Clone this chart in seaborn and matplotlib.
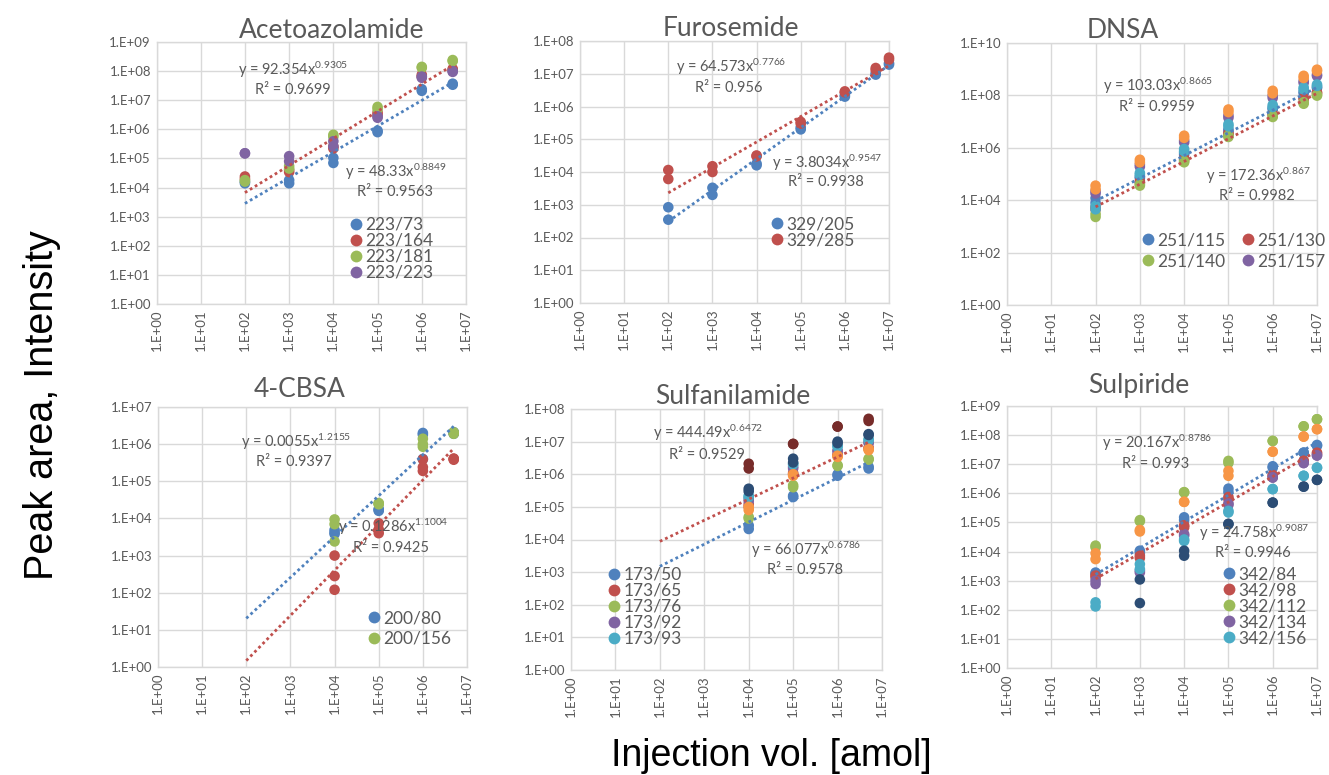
import numpy as np
import pandas as pd
import matplotlib
matplotlib.use("Agg")
import matplotlib.pyplot as plt
import seaborn as sns
from matplotlib.lines import Line2D
from matplotlib.ticker import NullLocator

sns.set_theme(style="white")
plt.rcParams["font.family"] = ["Lato", "DejaVu Sans"]
plt.rcParams.update({"mathtext.fontset": "custom", "mathtext.rm": "Lato",
                     "mathtext.it": "Lato:italic", "mathtext.bf": "Lato:bold"})

nan = np.nan
# ---------------- colours (Office palette) ----------------
C_BLUE, C_RED, C_GREEN, C_PURPLE = "#4F81BD", "#C0504D", "#9BBB59", "#8064A2"
C_TEAL, C_ORANGE, C_NAVY, C_DRED = "#4BACC6", "#F79646", "#2C4D75", "#772C2A"

# ---------------- data ----------------
# Acetoazolamide
aceto_x = [1e2, 1e2, 1e3, 1e3, 1e4, 1e4, 1e5, 1e5, 1e6, 1e6, 5e6, 5e6]
aceto_223_73 = [1.4e4, 1.6e4, 1.4e4, 1.8e4, 7e4, 1.05e5, 8e5, 9e5, 2.1e7, 2.4e7, 3.4e7, 3.7e7]
aceto_223_164 = [2.4e4, 2.0e4, 3.4e4, 4.0e4, 2.2e5, 2.6e5, 3.2e6, 3.8e6, 6.5e7, 7.5e7, 1.2e8, 1.1e8]
aceto_223_181 = [1.8e4, 1.6e4, 4.5e4, 5.5e4, 6.5e5, 5.5e5, 5.9e6, 5.0e6, 1.4e8, 1.3e8, 2.4e8, 2.2e8]
aceto_223_223 = [1.5e5, 1.5e5, 1.2e5, 8e4, 3.9e5, 2.6e5, 2.8e6, 2.5e6, 5.9e7, 6.5e7, 9.4e7, 1.0e8]

# Furosemide
furo_x = [1e2, 1e2, 1e3, 1e3, 1e4, 1e4, 1e5, 1e5, 1e6, 1e6, 5e6, 5e6, 1e7, 1e7]
furo_329_205 = [8.4e2, 3.5e2, 3.3e3, 2.0e3, 1.6e4, 1.8e4, 2.0e5, 2.3e5, 2.0e6, 2.2e6, 9.4e6, 1.05e7, 1.9e7, 2.1e7]
furo_329_285 = [1.15e4, 6.1e3, 1.5e4, 1.0e4, 3.2e4, 3.0e4, 3.4e5, 3.0e5, 2.9e6, 2.7e6, 1.5e7, 1.3e7, 3.1e7, 2.7e7]

# DNSA
dnsa_x = [1e2, 1e2, 1e3, 1e3, 1e4, 1e4, 1e5, 1e5, 1e6, 1e6, 5e6, 5e6, 1e7, 1e7]
dnsa_251_115 = [1.2e4, 8e3, 7e4, 8e4, 5.5e5, 6.5e5, 4.3e6, 5e6, 2.9e7, 3.3e7, 1.2e8, 1.4e8, 1.9e8, 2.1e8]
dnsa_251_130 = [4.4e3, 5.5e3, 4.6e4, 5.2e4, 3.5e5, 4e5, 3.2e6, 3.6e6, 1.8e7, 2e7, 7.2e7, 8e7, 1.2e8, 1.3e8]
dnsa_251_140 = [2.3e3, 3e3, 3.6e4, 4e4, 2.8e5, 3.1e5, 2.6e6, 2.9e6, 1.5e7, 1.65e7, 4.8e7, 5.5e7, 9.8e7, 1.05e8]
dnsa_251_157 = [1.8e4, 2.2e4, 2.3e5, 1.9e5, 1.9e6, 1.6e6, 1.7e7, 1.4e7, 9.8e7, 8e7, 3.5e8, 3e8, 6.2e8, 5.5e8]
dnsa_series5 = [6e3, 4.5e3, 9.4e4, 1.1e5, 7.4e5, 9e5, 6.6e6, 8e6, 3.6e7, 4.3e7, 1.7e8, 2e8, 2.3e8, 2.6e8]
dnsa_series6 = [3.6e4, 2.6e4, 3.5e5, 2.8e5, 2.9e6, 2.4e6, 2.9e7, 2.3e7, 1.5e8, 1.2e8, 5.6e8, 4.6e8, 9.6e8, 8.4e8]

# 4-CBSA
cbsa_x = [1e4, 1e4, 1e4, 1e5, 1e5, 1e5, 1e6, 1e6, 1e6, 5e6, 5e6, 5e6]
cbsa_200_80 = [4.9e3, 3.8e3, 4.2e3, 1.7e4, 1.6e4, 1.8e4, 2.0e6, 1.8e6, 4e5, 2.1e6, 2.0e6, 1.9e6]
cbsa_200_156 = [9.4e3, 7e3, 2.4e3, 2.6e4, 2.4e4, 2.5e4, 1.4e6, 1.0e6, 8.5e5, 2.1e6, 1.9e6, 2.0e6]
cbsa_series3 = [1e3, 2.8e2, 1.2e2, 7.4e3, 5.1e3, 4e3, 3.9e5, 2.4e5, 1.9e5, 4.1e5, 3.8e5, 4e5]

# Sulfanilamide
sulfa_x = [1e4, 1e4, 1e5, 1e5, 1e6, 1e6, 5e6, 5e6]
sulfa_173_50 = [2.7e4, 2.1e4, 2.2e5, 2.0e5, 1.0e6, 9e5, 1.5e6, 1.7e6]
sulfa_173_65 = [1.2e5, 1.0e5, 1.1e6, 1.0e6, 4e6, 3.7e6, 6.5e6, 6e6]
sulfa_173_76 = [4.9e4, 4.4e4, 4.6e5, 4.0e5, 1.9e6, 1.8e6, 3.0e6, 2.8e6]
sulfa_173_92 = [1.8e5, 1.5e5, 1.7e6, 1.5e6, 5.4e6, 5e6, 9.6e6, 9e6]
sulfa_173_93 = [2.2e5, 2.0e5, 2.1e6, 2e6, 7.5e6, 7e6, 1.2e7, 1.1e7]
sulfa_series6 = [1.0e5, 8e4, 1.0e6, 9e5, 3.7e6, 3.4e6, 6e6, 5.5e6]
sulfa_series7 = [3.6e5, 3e5, 3e6, 2.3e6, 1e7, 9e6, 1.7e7, 1.6e7]
sulfa_series8 = [2.1e6, 1.5e6, 8.5e6, 8.5e6, 2.9e7, 2.9e7, 5e7, 4.3e7]

# Sulpiride
sulp_x = [1e2, 1e2, 1e3, 1e3, 1e4, 1e4, 1e5, 1e5, 1e6, 1e6, 5e6, 5e6, 1e7, 1e7]
sulp_342_84 = [1.7e3, 1.9e3, 1.07e4, 9e3, 1.5e5, 1.2e5, 1.45e6, 1.1e6, 7.6e6, 8.5e6, 2.5e7, 2.5e7, 4.3e7, 4.6e7]
sulp_342_98 = [1.3e3, 1.5e3, 7.2e3, 6e3, 6.7e4, 8e4, 6.3e5, 7.5e5, 4e6, 4.3e6, 1.3e7, 1.3e7, 2.3e7, 2.5e7]
sulp_342_112 = [1.4e4, 1.6e4, 1.1e5, 1.2e5, 1.07e6, 1.1e6, 1.3e7, 1.1e7, 6.3e7, 6.3e7, 2e8, 2e8, 3.5e8, 3.5e8]
sulp_342_134 = [7.7e2, 1.0e3, 1.9e3, 2.2e3, 3.5e4, 4e4, 4e5, 4.5e5, 3.5e6, 3.5e6, 1.1e7, 1.1e7, 2e7, 2e7]
sulp_342_156 = [1.8e2, 1.3e2, 3.7e3, 2.5e3, 2.3e4, 2.6e4, 2.5e5, 2.2e5, 1.4e6, 1.4e6, 4e6, 4e6, 7.6e6, 7.6e6]
sulp_series6 = [8.7e3, 5.5e3, 4.9e4, 5.5e4, 5.1e5, 5.1e5, 5.9e6, 4e6, 2.7e7, 2.7e7, 8.9e7, 8.9e7, 1.6e8, 1.6e8]
sulp_series7 = [nan, nan, 1.1e3, 1.7e2, 1.07e4, 7.2e3, 8.7e4, 9e4, 4.8e5, 4.8e5, 1.7e6, 1.7e6, 2.9e6, 2.9e6]

# power-law trendlines from the chart equations: (a, b, x_start, x_end)
aceto_trend_blue = (48.33, 0.8849, 1e2, 5e6)
aceto_trend_red = (92.354, 0.9305, 1e2, 5e6)
furo_trend_blue = (3.8034, 0.9547, 1e2, 1e7)
furo_trend_red = (64.573, 0.7766, 1e2, 1e7)
dnsa_trend_blue = (172.36, 0.867, 1e2, 1e7)
dnsa_trend_red = (103.03, 0.8665, 1e2, 1e7)
cbsa_trend_blue = (0.1286, 1.1004, 1e2, 5e6)
cbsa_trend_red = (0.0055, 1.2155, 1e2, 5e6)
sulfa_trend_blue = (66.077, 0.6786, 1e2, 5e6)
sulfa_trend_red = (444.49, 0.6472, 1e2, 5e6)
sulp_trend_blue = (24.758, 0.9087, 1e2, 1e7)
sulp_trend_red = (20.167, 0.8786, 1e2, 1e7)

titles = ["Acetoazolamide", "Furosemide", "DNSA", "4-CBSA", "Sulfanilamide", "Sulpiride"]
x_tick_labels = ["1.E+00", "1.E+01", "1.E+02", "1.E+03", "1.E+04", "1.E+05", "1.E+06", "1.E+07"]

# ---------------- layout ----------------
W, H = 1329, 775
fig = plt.figure(figsize=(W / 100, H / 100), dpi=100)
fig.patch.set_facecolor("white")
GRAY = "#595959"
GRID = "#D9D9D9"
LEG_FS = 12.5


def fx(x):
    return x / W


def fy(y):
    return 1 - y / H


def panel(rect, x, series, legend_items, ymax, ystep, trends, title, title_xy,
          eqs, leg):
    l, t, r, b = rect
    ax = fig.add_axes([fx(l), fy(b), (r - l) / W, (b - t) / H])
    ax.set_xscale("log")
    ax.set_yscale("log")
    rows = []
    for name, col, ys in series:
        for xi, yi in zip(x, ys):
            if np.isfinite(yi):
                rows.append((xi, yi, name))
    df = pd.DataFrame(rows, columns=["x", "y", "series"])
    pal = {name: col for name, col, _ in series}
    sns.scatterplot(data=df, x="x", y="y", hue="series", palette=pal,
                    s=58, linewidth=0, legend=False, ax=ax, clip_on=False,
                    zorder=3)
    for (a, bexp, x0, x1), col in trends:
        xs = np.array([x0, x1])
        sns.lineplot(x=xs, y=a * xs ** bexp, ax=ax, color=col, linewidth=2.0,
                     linestyle=(0, (1, 1.1)), zorder=4)
    ax.set_xlim(1, 1e7)
    ax.set_ylim(1, 10.0 ** ymax)
    ax.set_xticks([10.0 ** e for e in range(8)])
    ax.set_xticklabels(x_tick_labels, rotation=90)
    yt = list(range(0, ymax + 1, ystep))
    ax.set_yticks([10.0 ** e for e in yt])
    ax.set_yticklabels([f"1.E+{e:02d}" for e in yt])
    ax.xaxis.set_minor_locator(NullLocator())
    ax.yaxis.set_minor_locator(NullLocator())
    ax.tick_params(length=0, labelsize=9.5, labelcolor=GRAY, pad=4)
    ax.grid(True, which="major", color=GRID, linewidth=1.0)
    ax.set_axisbelow(True)
    for s in ax.spines.values():
        s.set_color(GRID)
        s.set_linewidth(1.0)
    ax.set_xlabel("")
    ax.set_ylabel("")
    fig.text(fx(title_xy[0]), fy(title_xy[1]), title, ha="center", va="center",
             fontsize=19, color=GRAY)
    for (ex, ey, txt) in eqs:
        fig.text(fx(ex), fy(ey), txt, ha="left", va="center", fontsize=10.5,
                 color=GRAY)
    handles = [Line2D([], [], marker="o", linestyle="", markersize=8.5,
                      markerfacecolor=col, markeredgewidth=0, label=lab)
               for lab, col in legend_items]
    lx, ly, ncol, lsp, csp = leg
    lg = ax.legend(handles=handles, loc="upper left",
                   bbox_to_anchor=(fx(lx), fy(ly)), bbox_transform=fig.transFigure,
                   frameon=False, fontsize=LEG_FS, borderpad=0, borderaxespad=0,
                   handletextpad=0.05, handlelength=1.0, labelspacing=lsp,
                   ncol=ncol, columnspacing=csp)
    for txt in lg.get_texts():
        txt.set_color(GRAY)
    return ax


panel((156.5, 42, 466, 304), aceto_x,
      [("223/73", C_BLUE, aceto_223_73), ("223/164", C_RED, aceto_223_164),
       ("223/181", C_GREEN, aceto_223_181), ("223/223", C_PURPLE, aceto_223_223)],
      [("223/73", C_BLUE), ("223/164", C_RED), ("223/181", C_GREEN), ("223/223", C_PURPLE)],
      9, 1, [(aceto_trend_blue, C_BLUE), (aceto_trend_red, C_RED)],
      titles[0], (332, 30),
      [(238, 70, "y = 92.354x$^{0.9305}$"), (255, 90, "R² = 0.9699"),
       (345, 172, "y = 48.33x$^{0.8849}$"), (357, 192, "R² = 0.9563")],
      (347, 217, 1, 0.0, 1.0))

panel((580, 41, 889, 303), furo_x,
      [("329/205", C_BLUE, furo_329_205), ("329/285", C_RED, furo_329_285)],
      [("329/205", C_BLUE), ("329/285", C_RED)],
      8, 1, [(furo_trend_blue, C_BLUE), (furo_trend_red, C_RED)],
      titles[1], (731, 28),
      [(676, 67, "y = 64.573x$^{0.7766}$"), (695, 88, "R² = 0.956"),
       (772, 163, "y = 3.8034x$^{0.9547}$"), (788, 182, "R² = 0.9938")],
      (768, 216, 1, 0.0, 1.0))

dnsa_leg = [("251/115", C_BLUE), ("251/140", C_GREEN), ("251/130", C_RED), ("251/157", C_PURPLE)]
panel((1007, 43, 1317, 305), dnsa_x,
      [("251/115", C_BLUE, dnsa_251_115), ("251/130", C_RED, dnsa_251_130),
       ("251/140", C_GREEN, dnsa_251_140), ("251/157", C_PURPLE, dnsa_251_157),
       ("s5", C_TEAL, dnsa_series5), ("s6", C_ORANGE, dnsa_series6)],
      dnsa_leg,
      10, 2, [(dnsa_trend_blue, C_BLUE), (dnsa_trend_red, C_RED)],
      titles[2], (1123, 31),
      [(1103, 86, "y = 103.03x$^{0.8665}$"), (1119, 107, "R² = 0.9959"),
       (1206, 176, "y = 172.36x$^{0.867}$"), (1219, 196, "R² = 0.9982")],
      (1139, 232, 2, 0.3, 0.8))

panel((158, 407, 467, 667), cbsa_x,
      [("200/80", C_BLUE, cbsa_200_80), ("200/156", C_GREEN, cbsa_200_156),
       ("s3", C_RED, cbsa_series3)],
      [("200/80", C_BLUE), ("200/156", C_GREEN)],
      7, 1, [(cbsa_trend_blue, C_BLUE), (cbsa_trend_red, C_RED)],
      titles[3], (300, 390),
      [(241, 442, "y = 0.0055x$^{1.2155}$"), (256, 462, "R² = 0.9397"),
       (338, 527, "y = 0.1286x$^{1.1004}$"), (353, 548, "R² = 0.9425")],
      (365, 610, 1, 0.28, 1.0))

panel((571, 409, 882, 670), sulfa_x,
      [("173/50", C_BLUE, sulfa_173_50), ("173/65", C_RED, sulfa_173_65),
       ("173/76", C_GREEN, sulfa_173_76), ("173/92", C_PURPLE, sulfa_173_92),
       ("173/93", C_TEAL, sulfa_173_93), ("s6", C_ORANGE, sulfa_series6),
       ("s7", C_NAVY, sulfa_series7), ("s8", C_DRED, sulfa_series8)],
      [("173/50", C_BLUE), ("173/65", C_RED), ("173/76", C_GREEN),
       ("173/92", C_PURPLE), ("173/93", C_TEAL)],
      8, 1, [(sulfa_trend_blue, C_BLUE), (sulfa_trend_red, C_RED)],
      titles[4], (733, 397),
      [(653, 433, "y = 444.49x$^{0.6472}$"), (669, 455, "R² = 0.9529"),
       (751, 550, "y = 66.077x$^{0.6786}$"), (767, 570, "R² = 0.9578")],
      (605, 567, 1, 0.0, 1.0))

panel((1007, 406, 1317, 668), sulp_x,
      [("342/84", C_BLUE, sulp_342_84), ("342/98", C_RED, sulp_342_98),
       ("342/112", C_GREEN, sulp_342_112), ("342/134", C_PURPLE, sulp_342_134),
       ("342/156", C_TEAL, sulp_342_156), ("s6", C_ORANGE, sulp_series6),
       ("s7", C_NAVY, sulp_series7)],
      [("342/84", C_BLUE), ("342/98", C_RED), ("342/112", C_GREEN),
       ("342/134", C_PURPLE), ("342/156", C_TEAL)],
      9, 1, [(sulp_trend_blue, C_BLUE), (sulp_trend_red, C_RED)],
      titles[5], (1139, 385),
      [(1102, 443, "y = 20.167x$^{0.8786}$"), (1122, 464, "R² = 0.993"),
       (1199, 533, "y = 24.758x$^{0.9087}$"), (1215, 553, "R² = 0.9946")],
      (1220, 566, 1, 0.0, 1.0))

fig.text(fx(42), fy(405), "Peak area, Intensity", rotation=90, ha="center",
         va="center", fontsize=28.5, family=["Liberation Sans", "DejaVu Sans"], color="black")
fig.text(fx(771), fy(756), "Injection vol. [amol]", ha="center", va="center",
         fontsize=27, family=["Liberation Sans", "DejaVu Sans"], color="black")

fig.savefig("out.png", dpi=100, facecolor="white")
